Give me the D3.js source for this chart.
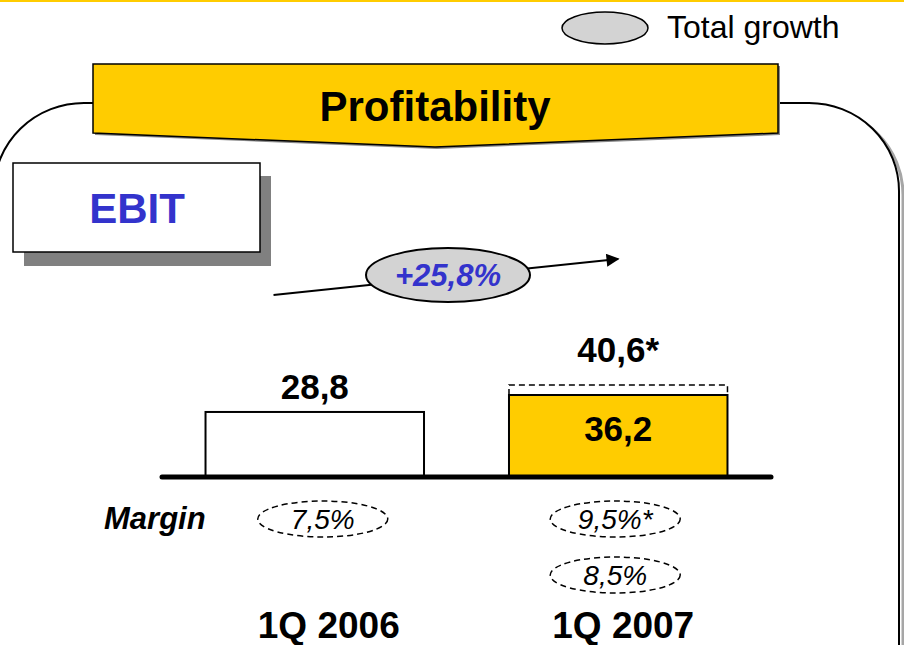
<!DOCTYPE html>
<html>
<head>
<meta charset="utf-8">
<script src="https://d3js.org/d3.v7.min.js"></script>
<style>
    body { margin: 0; background: #fff; }
    svg { display: block; }
    text { font-family: "Liberation Sans", Arial, sans-serif; }
</style>
</head>
<body>
<div id="chart"></div>
<script>
    // data
    var periods = ["1Q 2006", "1Q 2007"];
    var ebit = [28.8, 36.2];
    var ebitAdjusted = [null, 40.6];          // dashed "40,6*" box
    var margins = [["7,5%"], ["9,5%*", "8,5%"]];
    var growthLabel = "+25,8%";
    var legendLabel = "Total growth";
    var title = "Profitability";
    var boxLabel = "EBIT";

    var W = 904, H = 645;
    var yellow = "#FFCC00", blue = "#3333CC";
    var fmt = d3.formatLocale({ decimal: ",", thousands: ".", grouping: [3], currency: ["", ""] }).format(".1f");

    var svg = d3.select("#chart").append("svg")
        .attr("width", W)
        .attr("height", H);

    // top rule
    svg.append("rect").attr("x", 0).attr("y", 0).attr("width", W).attr("height", 2).attr("fill", yellow);

    // rounded frame (shadow first)
    svg.append("rect")
        .attr("x", -2).attr("y", 107).attr("width", 905).attr("height", 700)
        .attr("rx", 90).attr("ry", 88)
        .attr("fill", "none").attr("stroke", "#a6a6a6").attr("stroke-width", 3);
    svg.append("rect")
        .attr("x", -6).attr("y", 103).attr("width", 905).attr("height", 700)
        .attr("rx", 90).attr("ry", 88)
        .attr("fill", "#fff").attr("stroke", "#000").attr("stroke-width", 2);

    // legend
    svg.append("ellipse")
        .attr("cx", 605).attr("cy", 28).attr("rx", 43).attr("ry", 16)
        .attr("fill", "#D3D3D3").attr("stroke", "#000").attr("stroke-width", 1.5);
    svg.append("text")
        .attr("x", 667).attr("y", 38)
        .attr("font-size", 32)
        .attr("fill", "#000")
        .text(legendLabel);

    // title banner
    var banner = [[93, 64], [778, 64], [778, 133], [435, 147], [93, 133]];
    svg.append("path")
        .attr("d", d3.line()(banner.map(function (p) { return [p[0] + 2, p[1] + 2]; })) + "Z")
        .attr("fill", "#888");
    svg.append("path")
        .attr("d", d3.line()(banner) + "Z")
        .attr("fill", yellow).attr("stroke", "#000").attr("stroke-width", 1.5);
    svg.append("text")
        .attr("x", 435).attr("y", 121)
        .attr("text-anchor", "middle")
        .attr("font-size", 42).attr("font-weight", "bold")
        .text(title);

    // EBIT box
    svg.append("rect").attr("x", 24).attr("y", 176).attr("width", 247).attr("height", 90).attr("fill", "#808080");
    svg.append("rect").attr("x", 13).attr("y", 163).attr("width", 247).attr("height", 89)
        .attr("fill", "#fff").attr("stroke", "#000").attr("stroke-width", 1.5);
    svg.append("text")
        .attr("x", 137).attr("y", 223)
        .attr("text-anchor", "middle")
        .attr("font-size", 42).attr("font-weight", "bold")
        .attr("fill", blue)
        .text(boxLabel);

    // scales
    var x = d3.scaleBand()
        .domain(periods)
        .range([160, 773])
        .paddingInner(0.28)
        .paddingOuter(0.15);

    var y = d3.scaleLinear()
        .domain([0, 36.2])
        .range([478, 395]);

    var bw = x.bandwidth();

    // growth arrow
    var defs = svg.append("defs");
    defs.append("marker")
        .attr("id", "head")
        .attr("viewBox", "0 0 10 10")
        .attr("refX", 9).attr("refY", 5)
        .attr("markerWidth", 16).attr("markerHeight", 13)
        .attr("markerUnits", "userSpaceOnUse")
        .attr("orient", "auto")
        .append("path").attr("d", "M0,0L10,5L0,10Z").attr("fill", "#000");

    var x0 = x(periods[0]) + 68, x1 = x(periods[1]) + bw / 2;
    svg.append("line")
        .attr("x1", x0).attr("y1", 295)
        .attr("x2", x1).attr("y2", 259)
        .attr("stroke", "#000").attr("stroke-width", 2)
        .attr("marker-end", "url(#head)");

    svg.append("ellipse")
        .attr("cx", 448).attr("cy", 275).attr("rx", 82).attr("ry", 27)
        .attr("fill", "#D3D3D3").attr("stroke", "#000").attr("stroke-width", 2);
    svg.append("text")
        .attr("x", 448).attr("y", 286)
        .attr("text-anchor", "middle")
        .attr("font-size", 31).attr("font-weight", "bold").attr("font-style", "italic")
        .attr("fill", blue)
        .text(growthLabel);

    // adjusted (dashed) box
    periods.forEach(function (p, i) {
        if (ebitAdjusted[i] == null) return;
        var top = y(ebitAdjusted[i]);
        svg.append("path")
            .attr("d", "M" + x(p) + "," + y(ebit[i]) + "V" + top + "H" + (x(p) + bw) + "V" + y(ebit[i]))
            .attr("fill", "none").attr("stroke", "#000").attr("stroke-width", 1.5)
            .attr("stroke-dasharray", "6,4");
        svg.append("text")
            .attr("x", x(p) + bw / 2).attr("y", top - 23)
            .attr("text-anchor", "middle")
            .attr("font-size", 35).attr("font-weight", "bold")
            .text(fmt(ebitAdjusted[i]) + "*");
    });

    // bars
    svg.selectAll(".bar")
        .data(ebit)
        .enter().append("rect")
        .attr("class", "bar")
        .attr("x", function (d, i) { return x(periods[i]); })
        .attr("y", function (d) { return y(d); })
        .attr("width", bw)
        .attr("height", function (d) { return y(0) - y(d); })
        .attr("fill", function (d, i) { return i == 1 ? yellow : "#fff"; })
        .attr("stroke", "#000").attr("stroke-width", 2);

    svg.selectAll(".val")
        .data(ebit)
        .enter().append("text")
        .attr("class", "val")
        .attr("x", function (d, i) { return x(periods[i]) + bw / 2; })
        .attr("y", function (d, i) { return i == 1 ? y(d) + 46 : y(d) - 13; })
        .attr("text-anchor", "middle")
        .attr("font-size", 35).attr("font-weight", "bold")
        .text(function (d) { return fmt(d); });

    // baseline
    svg.append("line")
        .attr("x1", 162).attr("x2", 771)
        .attr("y1", y(0) - 1).attr("y2", y(0) - 1)
        .attr("stroke", "#000").attr("stroke-width", 5).attr("stroke-linecap", "round");

    // margins
    svg.append("text")
        .attr("x", 104).attr("y", 529)
        .attr("font-size", 31).attr("font-weight", "bold").attr("font-style", "italic")
        .text("Margin");

    periods.forEach(function (p, i) {
        margins[i].forEach(function (m, j) {
            var cx = x(p) + bw / 2 + (i == 0 ? 8 : -3), cy = 519 + j * 56;
            svg.append("ellipse")
                .attr("cx", cx).attr("cy", cy).attr("rx", 65).attr("ry", 18)
                .attr("fill", "none").attr("stroke", "#000").attr("stroke-width", 1.5)
                .attr("stroke-dasharray", "6,4");
            svg.append("text")
                .attr("x", cx).attr("y", cy + 10)
                .attr("text-anchor", "middle")
                .attr("font-size", 28).attr("font-style", "italic")
                .text(m);
        });
    });

    // category labels
    svg.selectAll(".cat")
        .data(periods)
        .enter().append("text")
        .attr("class", "cat")
        .attr("x", function (d, i) { return x(d) + bw / 2 + (i == 0 ? 14 : 5); })
        .attr("y", 638)
        .attr("text-anchor", "middle")
        .attr("font-size", 37).attr("font-weight", "bold")
        .text(function (d) { return d; });
</script>
</body>
</html>
